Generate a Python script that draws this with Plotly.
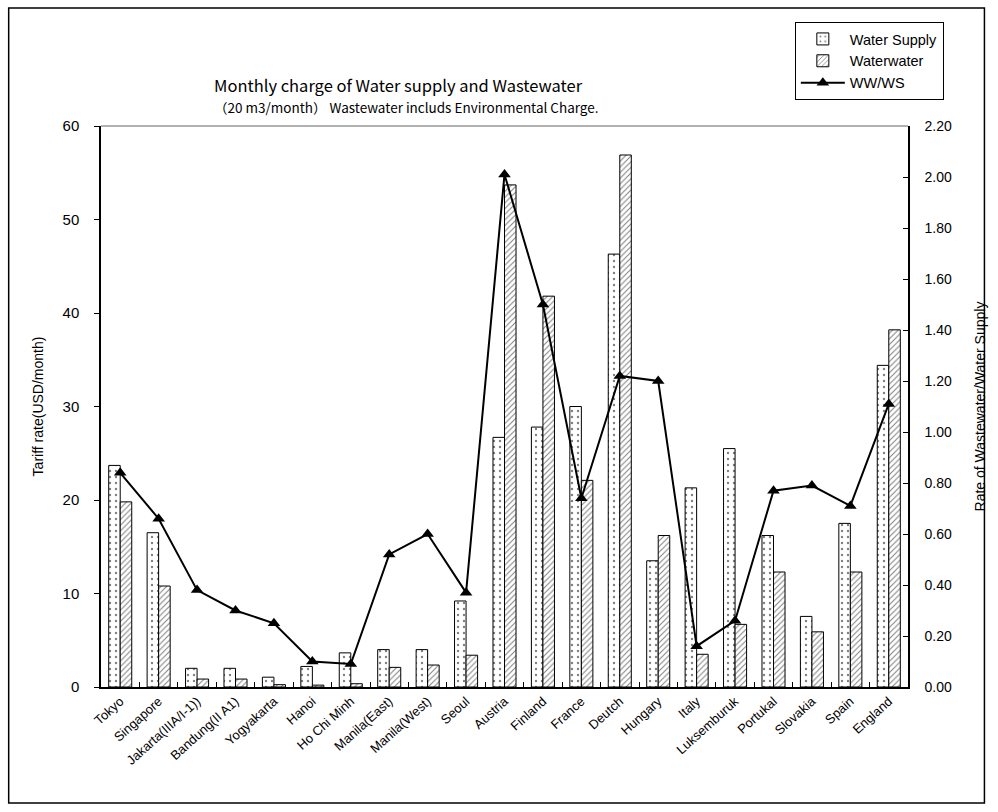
import plotly.graph_objects as go

cities = ["Tokyo", "Singapore", "Jakarta(IIIA/I-1))", "Bandung(II A1)", "Yogyakarta",
          "Hanoi", "Ho Chi Minh", "Manila(East)", "Manila(West)", "Seoul", "Austria",
          "Finland", "France", "Deutch", "Hungary", "Italy", "Luksemburuk", "Portukal",
          "Slovakia", "Spain", "England"]
water_supply = [23.7, 16.5, 2.0, 2.0, 1.05, 2.2, 3.65, 4.0, 4.0, 9.2, 26.7,
                27.8, 30.0, 46.3, 13.5, 21.3, 25.5, 16.2, 7.55, 17.5, 34.4]
wastewater = [19.8, 10.8, 0.85, 0.85, 0.25, 0.2, 0.35, 2.1, 2.35, 3.4, 53.7,
              41.8, 22.1, 56.9, 16.2, 3.5, 6.7, 12.3, 5.9, 12.3, 38.2]
ratio = [0.84, 0.66, 0.38, 0.30, 0.25, 0.10, 0.09, 0.52, 0.60, 0.37, 2.01,
         1.50, 0.74, 1.22, 1.20, 0.16, 0.26, 0.77, 0.79, 0.71, 1.11]

left_ticks = [0, 10, 20, 30, 40, 50, 60]
right_ticks = [0.0, 0.2, 0.4, 0.6, 0.8, 1.0, 1.2, 1.4, 1.6, 1.8, 2.0, 2.2]

label_font = "Liberation Sans, Arial, sans-serif"
jp_font = "Noto Sans CJK JP, sans-serif"

fig = go.Figure()
fig.add_trace(go.Bar(
    x=cities, y=water_supply, name="Water Supply",
    marker=dict(color="white", line=dict(color="black", width=1),
                pattern=dict(shape=".", fgcolor="black", bgcolor="white",
                             size=6, solidity=0.12)),
))
fig.add_trace(go.Bar(
    x=cities, y=wastewater, name="Waterwater",
    marker=dict(color="white", line=dict(color="black", width=1),
                pattern=dict(shape="/", fgcolor="black", bgcolor="white",
                             size=4, solidity=0.25)),
))
fig.add_trace(go.Scatter(
    x=cities, y=ratio, name="WW/WS", yaxis="y2", mode="lines+markers",
    line=dict(color="black", width=2),
    marker=dict(symbol="triangle-up", size=11, color="black"),
))

fig.update_layout(
    width=998, height=812,
    margin=dict(l=101, r=84, t=126, b=125),
    paper_bgcolor="white", plot_bgcolor="white",
    barmode="group", bargap=0.4, bargroupgap=0,
    font=dict(family=label_font, color="black"),
    showlegend=True,
    legend=dict(x=(800 - 101) / 813, y=(687 - 22) / 561, xanchor="left", yanchor="top",
                bordercolor="black", borderwidth=1, bgcolor="white",
                font=dict(family=label_font, size=14.5), tracegroupgap=0,
                itemwidth=44, traceorder="normal"),
    xaxis=dict(
        range=[-0.5, len(cities) - 0.5],
        showline=True, linecolor="black", linewidth=1.5,
        ticks="inside", tickson="boundaries", ticklen=5, tickcolor="black",
        tickangle=-42, tickfont=dict(size=13, family=label_font),
        showgrid=False, zeroline=False,
    ),
    yaxis=dict(
        range=[0, 60], tickvals=left_ticks, showline=True, linecolor="black",
        linewidth=1.5, ticks="outside", ticklen=5, tickcolor="black",
        tickfont=dict(size=15, family=label_font), ticklabelstandoff=12,
        showgrid=False, zeroline=False,
        title=dict(text="Tariff rate(USD/month)", font=dict(size=14, family=label_font),
                   standoff=16),
    ),
    yaxis2=dict(
        range=[0, 2.2], tickvals=right_ticks, tickformat=".2f",
        overlaying="y", side="right", showline=True, linecolor="black",
        linewidth=1.5, ticks="inside", ticklen=5, tickcolor="black",
        tickfont=dict(size=14, family=label_font), ticklabelstandoff=12,
        showgrid=False, zeroline=False,
        title=dict(text="Rate of Wastewater/Water Supply",
                   font=dict(size=14, family=label_font), standoff=24),
    ),
)

# chart titles
fig.add_annotation(text="Monthly charge of Water supply and Wastewater",
                   xref="paper", yref="paper", x=(401 - 101) / 813, y=(687 - 85) / 561,
                   showarrow=False, xanchor="center", yanchor="middle",
                   font=dict(size=16.5, family=jp_font))
fig.add_annotation(text="（20 m3/month） Wastewater includs Environmental Charge.",
                   xref="paper", yref="paper", x=(408 - 101) / 813, y=(687 - 107) / 561,
                   showarrow=False, xanchor="center", yanchor="middle",
                   font=dict(size=13.5, family=jp_font))

# plot area top edge and outer frame
fig.add_shape(type="line", xref="paper", yref="paper", x0=0, x1=1, y0=1, y1=1,
              line=dict(color="#999999", width=1.5))
fig.add_shape(type="rect", xref="paper", yref="paper",
              x0=(8 - 101) / 813, x1=(991 - 101) / 813,
              y0=(687 - 803) / 561, y1=(687 - 8) / 561,
              line=dict(color="black", width=1.5))

fig.write_html("out.html")
